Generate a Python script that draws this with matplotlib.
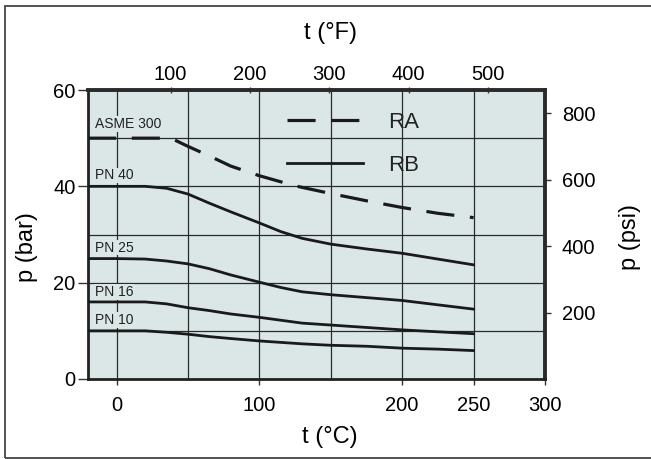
import matplotlib
matplotlib.use("Agg")
import matplotlib.pyplot as plt
from matplotlib.lines import Line2D
from matplotlib.patches import Rectangle

plt.rcParams['font.family'] = ['Liberation Sans', 'DejaVu Sans']

# ---------------- data ----------------
t_asme = [-20, 0, 38, 50, 65, 80, 100, 125, 150, 175, 200, 225, 250]
p_asme = [50, 50, 50, 48.3, 46.3, 44.2, 42.2, 40.1, 38.5, 37.0, 35.6, 34.4, 33.5]

t_pn = [-20, 0, 20, 35, 50, 65, 80, 100, 115, 130, 150, 175, 200, 225, 250]
p_pn40 = [40, 40, 40, 39.6, 38.4, 36.5, 34.7, 32.4, 30.6, 29.2, 28.0, 27.0, 26.1, 24.9, 23.7]
p_pn25 = [25, 25, 24.9, 24.5, 23.9, 22.9, 21.6, 20.1, 19.0, 18.1, 17.5, 16.9, 16.3, 15.4, 14.5]
p_pn16 = [16, 16, 16, 15.6, 14.8, 14.2, 13.5, 12.8, 12.2, 11.6, 11.2, 10.7, 10.2, 9.8, 9.4]
p_pn10 = [10, 10, 10, 9.7, 9.3, 8.8, 8.4, 7.9, 7.6, 7.3, 7.0, 6.8, 6.4, 6.2, 5.9]

series_labels = ["ASME 300", "PN 40", "PN 25", "PN 16", "PN 10"]
legend_labels = ["RA", "RB"]

xticks_c = [0, 100, 200, 250, 300]
xgrid_minor = [50, 150]
yticks_bar = [0, 20, 40, 60]
ygrid_minor = [10, 30, 50]
xticks_f = [100, 200, 300, 400, 500]
yticks_psi = [200, 400, 600, 800]

# ---------------- figure ----------------
W, H = 651, 459
fig = plt.figure(figsize=(W / 100, H / 100), dpi=100)
ax = fig.add_axes([88 / W, 1 - 379 / H, 457 / W, 289 / H])
bg = '#dbe7e7'
ax.set_facecolor(bg)
ax.set_xlim(-20, 300)
ax.set_ylim(0, 60)

ax.set_xticks(xticks_c)
ax.set_xticks(xgrid_minor, minor=True)
ax.set_yticks(yticks_bar)
ax.set_yticks(ygrid_minor, minor=True)
ax.grid(True, which='both', color='#2a2a2a', lw=0.9)
ax.set_axisbelow(True)

ax.tick_params(axis='x', which='major', direction='out', length=4, width=1,
               labelsize=14.5, pad=8, color='#333')
ax.tick_params(axis='y', which='major', direction='out', length=7, width=1,
               labelsize=14.5, pad=2, color='#333')
ax.tick_params(which='minor', length=0)

for s in ['left', 'bottom']:
    ax.spines[s].set_linewidth(2.0)
    ax.spines[s].set_color('#222')
for s in ['top', 'right']:
    ax.spines[s].set_linewidth(2.8)
    ax.spines[s].set_color('#2a2a2a')

ax.set_xlabel('t (°C)', fontsize=17)
ax.xaxis.set_label_coords(0.53, -0.2)
ax.xaxis.label.set_va('center')
ax.set_ylabel('p (bar)', fontsize=17)
ax.yaxis.set_label_coords(-0.133, 0.455)
ax.yaxis.label.set_va('center')

lc = '#1a1a1a'
dash = (8.8, 4.9)
ax.plot(t_asme, p_asme, color=lc, lw=2.3, dashes=dash, zorder=3)
for p in [p_pn40, p_pn25, p_pn16, p_pn10]:
    ax.plot(t_pn, p, color=lc, lw=2.0, zorder=3)

# curve labels, anchored to each curve's starting value
label_offsets_px = [7, 4, 4, 3, 4]
starts = [p_asme[0], p_pn40[0], p_pn25[0], p_pn16[0], p_pn10[0]]
for lab, y0, off in zip(series_labels, starts, label_offsets_px):
    ax.annotate(lab, xy=(-15, y0), xytext=(0, off), textcoords='offset pixels',
                fontsize=10, ha='left', va='bottom', color='#222',
                bbox=dict(boxstyle='square,pad=0.05', fc=bg, ec='none'), zorder=2.5)

handles = [Line2D([], [], color=lc, lw=2.3, dashes=dash),
           Line2D([], [], color=lc, lw=2.0)]
leg = ax.legend(handles, legend_labels, loc='upper left',
                bbox_to_anchor=((287 - 88) / 457, (379 - 112) / 289),
                frameon=False, fontsize=16, handlelength=3.4, handletextpad=1.15,
                labelspacing=1.0, borderpad=0, borderaxespad=0)
for t in leg.get_texts():
    t.set_color('#222')

# secondary axes
def c2f(c):
    return c * 9 / 5 + 32

def f2c(f):
    return (f - 32) * 5 / 9

def bar2psi(b):
    return b * 14.5038

def psi2bar(p):
    return p / 14.5038

secx = ax.secondary_xaxis('top', functions=(c2f, f2c))
secx.set_xticks(xticks_f)
secx.tick_params(direction='inout', length=5, width=1, labelsize=14.5, pad=2, color='#333')
secx.spines['top'].set_visible(False)
secx.set_xlabel('t (°F)', fontsize=17)
secx.xaxis.set_label_coords(0.53, 1.197, transform=ax.transAxes)
secx.xaxis.label.set_va('center')

secy = ax.secondary_yaxis('right', functions=(bar2psi, psi2bar))
secy.set_yticks(yticks_psi)
secy.tick_params(direction='out', length=4, width=1, labelsize=14.5, pad=8, color='#333')
secy.spines['right'].set_visible(False)
secy.set_ylabel('p (psi)', fontsize=17)
secy.yaxis.set_label_coords(1.186, 0.49, transform=ax.transAxes)
secy.yaxis.label.set_va('center')

# outer frame
fig.add_artist(Rectangle((5 / W, 1.2 / H), 1.2, (H - 7.5) / H, transform=fig.transFigure,
                         fill=False, ec='#444', lw=1.3))

fig.savefig('out.png', dpi=100)
